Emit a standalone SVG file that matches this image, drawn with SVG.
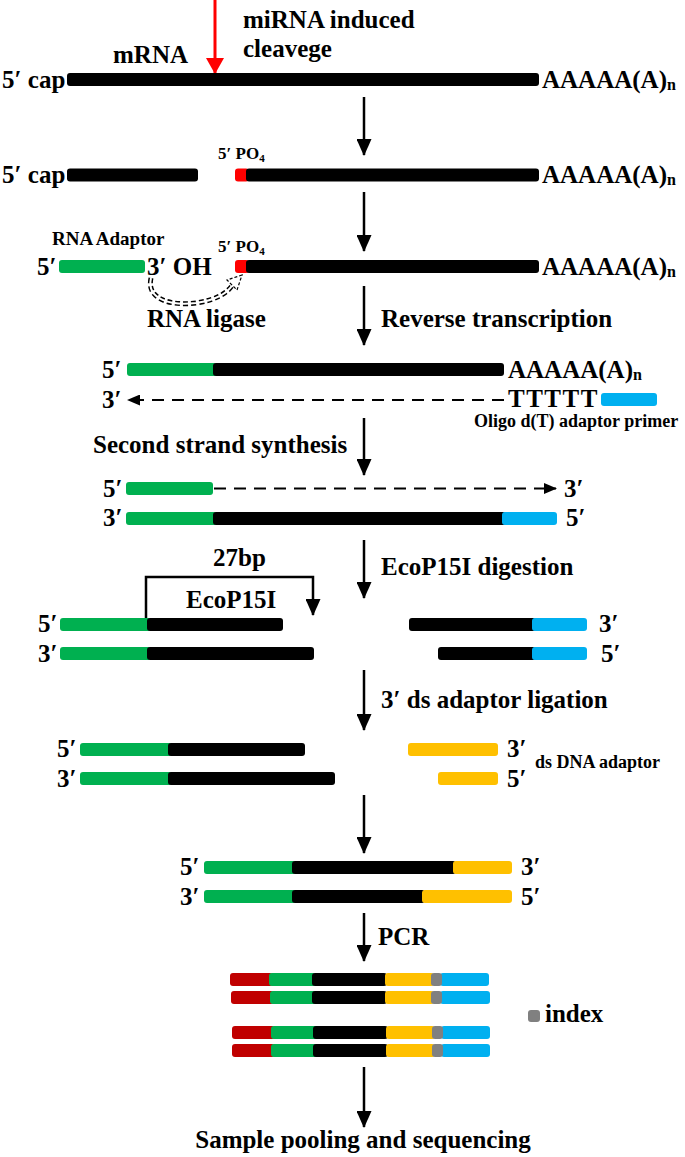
<svg xmlns="http://www.w3.org/2000/svg" width="685" height="1157" viewBox="0 0 685 1157">
<style>
text{font-family:"Liberation Serif","Times New Roman",serif;font-weight:bold;font-size:25px;fill:#000}
.s{font-size:19px}
.s2{font-size:18px}
.p{font-size:17px}
rect{rx:3px;ry:3px;height:13px}
.g{fill:#00b050}.k{fill:#000}.b{fill:#00b0f0}.y{fill:#ffc000}.r{fill:#c00000}.rr{fill:#ff0000}.gr{fill:#808080}
.ar{stroke:#000;stroke-width:2.5;fill:none;marker-end:url(#ah)}
.da{stroke:#000;stroke-width:2;fill:none;stroke-dasharray:12 8}
</style>
<defs>
<marker id="ah" markerUnits="userSpaceOnUse" viewBox="0 0 17 15" refX="16" refY="7.5" markerWidth="17" markerHeight="15" orient="auto"><path d="M0,0 L17,7.5 L0,15 z" fill="#000"/></marker>
<marker id="ahs" markerUnits="userSpaceOnUse" viewBox="0 0 13 11" refX="12" refY="5.5" markerWidth="13" markerHeight="11" orient="auto"><path d="M0,0 L13,5.5 L0,11 z" fill="#000"/></marker>
<marker id="ahr" markerUnits="userSpaceOnUse" viewBox="0 0 16 18" refX="15" refY="9" markerWidth="16" markerHeight="18" orient="auto"><path d="M0,0 L16,9 L0,18 z" fill="#ff0000"/></marker>
</defs>

<g id="connectors">
<line x1="215" y1="0" x2="215" y2="73" stroke="#ff0000" stroke-width="3" marker-end="url(#ahr)"/>
<line class="ar" x1="364" y1="97" x2="364" y2="155"/>
<line class="ar" x1="364" y1="192" x2="364" y2="251"/>
<line class="ar" x1="364" y1="286" x2="364" y2="345"/>
<line class="ar" x1="364" y1="418" x2="364" y2="475"/>
<line class="ar" x1="364" y1="540" x2="364" y2="598"/>
<line class="ar" x1="364" y1="670" x2="364" y2="730"/>
<line class="ar" x1="364" y1="795" x2="364" y2="853"/>
<line class="ar" x1="364" y1="913" x2="364" y2="961"/>
<line class="ar" x1="364" y1="1067" x2="364" y2="1127"/>
<line class="da" x1="504" y1="400" x2="128" y2="400" marker-end="url(#ahs)"/>
<line class="da" x1="214" y1="488.5" x2="556" y2="488.5" marker-end="url(#ahs)"/>
<path d="M146,619 V577 H313 V615" stroke="#000" stroke-width="2.5" fill="none" marker-end="url(#ah)"/>
<g id="ligase-arrow">
<path d="M151,278 C146,300 172,306 196,303 C216,300 228,293 233,284" stroke="#000" stroke-width="5" fill="none" stroke-dasharray="5 3"/>
<path d="M151,278 C146,300 172,306 196,303 C216,300 228,293 233,284" stroke="#fff" stroke-width="2" fill="none"/>
<polygon points="242,275 227,280 237,290" fill="#fff" stroke="#000" stroke-width="1.2" stroke-dasharray="3 2"/>
</g>
</g>

<g id="cleavage-label">
<text x="243" y="28">miRNA induced</text>
<text x="243" y="57">cleavege</text>
</g>

<g id="row1-mrna">
<text x="113" y="63">mRNA</text>
<text x="2" y="88">5′ cap</text>
<rect class="k" x="67" y="73" width="472"/>
<text x="542" y="88">AAAAA(A)<tspan font-size="16" dy="2">n</tspan></text>
</g>

<g id="row2-cleaved">
<text x="2" y="183">5′ cap</text>
<rect class="k" x="67" y="168.5" width="131"/>
<text class="p" x="218" y="159">5′ PO<tspan font-size="11" dy="3">4</tspan></text>
<rect class="rr" x="235" y="168.5" width="14"/>
<rect class="k" x="246" y="168.5" width="293"/>
<text x="542" y="183">AAAAA(A)<tspan font-size="16" dy="2">n</tspan></text>
</g>

<g id="row3-ligation">
<text class="s" x="52" y="245">RNA Adaptor</text>
<text x="37" y="275">5′</text>
<rect class="g" x="59" y="260" width="86"/>
<text x="147" y="275">3′ OH</text>
<text class="p" x="218" y="252">5′ PO<tspan font-size="11" dy="3">4</tspan></text>
<rect class="rr" x="235" y="260" width="14"/>
<rect class="k" x="246" y="260" width="293"/>
<text x="542" y="275">AAAAA(A)<tspan font-size="16" dy="2">n</tspan></text>
<text x="147" y="327" font-size="21">RNA ligase</text>
</g>

<g id="step-labels">
<text x="381" y="327">Reverse transcription</text>
<text x="93" y="453">Second strand synthesis</text>
<text x="381" y="575">EcoP15I digestion</text>
<text x="381" y="708">3′ ds adaptor ligation</text>
<text x="378" y="945">PCR</text>
<text x="363" y="1148" text-anchor="middle">Sample pooling and sequencing</text>
</g>

<g id="row4-rt">
<text x="102" y="378">5′</text>
<rect class="g" x="127" y="363" width="90"/>
<rect class="k" x="213" y="363" width="291"/>
<text x="508" y="378">AAAAA(A)<tspan font-size="16" dy="2">n</tspan></text>
<text x="102" y="408">3′</text>
<text x="508" y="407" letter-spacing="1.5">TTTTT</text>
<rect class="b" x="601" y="393" width="56"/>
<text class="s2" x="474" y="427">Oligo d(T) adaptor primer</text>
</g>

<g id="row5-second">
<text x="103" y="497">5′</text>
<rect class="g" x="126" y="482" width="87"/>
<text x="564" y="497">3′</text>
<text x="103" y="526">3′</text>
<rect class="g" x="126" y="512" width="91"/>
<rect class="k" x="213" y="512" width="293"/>
<rect class="b" x="502" y="512" width="55"/>
<text x="566" y="526">5′</text>
</g>

<g id="row7-digest">
<text x="213" y="566" font-size="24">27bp</text>
<text x="186" y="608">EcoP15I</text>
<text x="38" y="632">5′</text>
<rect class="g" x="60" y="618" width="91"/>
<rect class="k" x="147" y="618" width="136"/>
<rect class="k" x="409" y="618" width="127"/>
<rect class="b" x="532" y="618" width="55"/>
<text x="599" y="632">3′</text>
<text x="38" y="662">3′</text>
<rect class="g" x="60" y="647" width="91"/>
<rect class="k" x="147" y="647" width="167"/>
<rect class="k" x="438" y="647" width="98"/>
<rect class="b" x="532" y="647" width="55"/>
<text x="601" y="662">5′</text>
</g>

<g id="row9-adaptor">
<text x="57" y="757">5′</text>
<rect class="g" x="80" y="743" width="92"/>
<rect class="k" x="168" y="743" width="137"/>
<rect class="y" x="408" y="743" width="90"/>
<text x="507" y="757">3′</text>
<text x="57" y="787">3′</text>
<rect class="g" x="80" y="772" width="92"/>
<rect class="k" x="168" y="772" width="167"/>
<rect class="y" x="438" y="772" width="60"/>
<text x="507" y="787">5′</text>
<text class="s2" x="535" y="768">ds DNA adaptor</text>
</g>

<g id="row11-ligated">
<text x="180" y="875">5′</text>
<rect class="g" x="204" y="861" width="92"/>
<rect class="k" x="292" y="861" width="164"/>
<rect class="y" x="453" y="861" width="59"/>
<text x="521" y="875">3′</text>
<text x="180" y="905">3′</text>
<rect class="g" x="204" y="890" width="92"/>
<rect class="k" x="292" y="890" width="133"/>
<rect class="y" x="422" y="890" width="90"/>
<text x="521" y="905">5′</text>
</g>

<g id="pcr-products">
<rect class="r" x="230" y="973" width="43"/><rect class="g" x="269" y="973" width="47"/><rect class="k" x="312" y="973" width="75"/><rect class="y" x="385" y="973" width="49"/><rect class="b" x="440" y="973" width="49"/><rect class="gr" x="431" y="973" width="11"/>
<rect class="r" x="231" y="991" width="43"/><rect class="g" x="270" y="991" width="47"/><rect class="k" x="312" y="991" width="75"/><rect class="y" x="385" y="991" width="49"/><rect class="b" x="440" y="991" width="50"/><rect class="gr" x="431" y="991" width="11"/>
<rect class="r" x="232" y="1026" width="43"/><rect class="g" x="271" y="1026" width="47"/><rect class="k" x="313" y="1026" width="75"/><rect class="y" x="386" y="1026" width="49"/><rect class="b" x="441" y="1026" width="49"/><rect class="gr" x="432" y="1026" width="11"/>
<rect class="r" x="232" y="1044" width="43"/><rect class="g" x="271" y="1044" width="47"/><rect class="k" x="313" y="1044" width="75"/><rect class="y" x="386" y="1044" width="49"/><rect class="b" x="441" y="1044" width="49"/><rect class="gr" x="432" y="1044" width="11"/>
</g>

<g id="index-legend">
<rect class="gr" x="528" y="1010" width="12" style="height:12px"/>
<text x="545" y="1022" font-size="20">index</text>
</g>
</svg>
